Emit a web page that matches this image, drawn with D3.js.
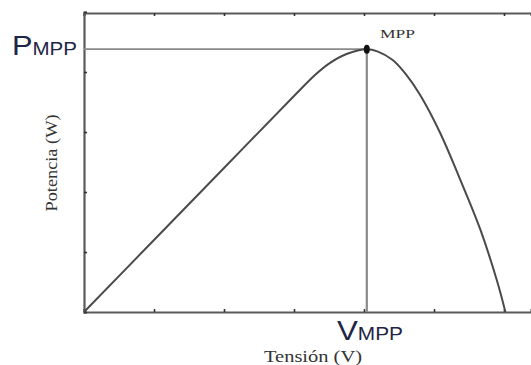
<!DOCTYPE html>
<html>
<head>
<meta charset="utf-8">
<script src="https://cdn.jsdelivr.net/npm/d3@7"></script>
<style>
  body { margin: 0; background: #fff; }
  svg { display: block; }
</style>
</head>
<body>
<div id="chart"></div>
<script>
// P-V curve of a PV panel (arbitrary units)
var voltage = [0, 1, 2, 3, 3.3, 3.5, 3.75, 4.04, 4.2, 4.41, 4.6, 4.8, 5.09, 5.37, 5.66, 5.9, 6.02];
var power   = [0, 1.2, 2.4, 3.6, 3.95, 4.14, 4.3, 4.38, 4.34, 4.2, 3.96, 3.62, 2.98, 2.22, 1.38, 0.52, 0];

var vMpp = 4.04;
var pMpp = 4.38;

var xTicks = [0, 1, 2, 3, 4, 5, 6];
var yTicks = [0, 1, 2, 3, 4, 5];

var width = 531, height = 365;
var margin = { left: 84, top: 12, bottom: 312 };

var svg = d3.select('#chart').append('svg')
    .attr('width', width)
    .attr('height', height);

var x = d3.scaleLinear()
    .domain([0, (width - margin.left) / 70])
    .range([margin.left, width]);

var y = d3.scaleLinear()
    .domain([0, 5])
    .range([margin.bottom, margin.top]);

var frameColor = '#5a5a5a';

// axes with small inward ticks
var bottomAxis = d3.axisBottom(x).tickValues(xTicks).tickSize(-3).tickFormat('');
var topAxis = d3.axisTop(x).tickValues(xTicks).tickSize(-3).tickFormat('');
var leftAxis = d3.axisLeft(y).tickValues(yTicks).tickSize(-3).tickFormat('');

function styleAxis(g) {
    g.select('.domain').attr('stroke', frameColor).attr('stroke-width', 2.2);
    g.selectAll('.tick line').attr('stroke', '#333').attr('stroke-width', 1.6);
}

svg.append('g')
    .attr('transform', 'translate(0,' + y(0) + ')')
    .call(bottomAxis).call(styleAxis);
svg.append('g')
    .attr('transform', 'translate(0,' + (y(5) + 1) + ')')
    .call(topAxis).call(styleAxis);
svg.append('g')
    .attr('transform', 'translate(' + x(0) + ',0)')
    .call(leftAxis).call(styleAxis);

// guide lines to the MPP
svg.append('line')
    .attr('x1', x(0)).attr('x2', x(vMpp))
    .attr('y1', y(pMpp)).attr('y2', y(pMpp))
    .attr('stroke', '#8a8a8a').attr('stroke-width', 1.8);
svg.append('line')
    .attr('x1', x(vMpp)).attr('x2', x(vMpp))
    .attr('y1', y(pMpp)).attr('y2', y(0))
    .attr('stroke', '#8a8a8a').attr('stroke-width', 2.2);

// the curve
var pts = voltage.map(function(v, i) { return [v, power[i]]; });
var line = d3.line()
    .x(function(d) { return x(d[0]); })
    .y(function(d) { return y(d[1]); })
    .curve(d3.curveCatmullRom.alpha(0.5));

svg.append('path')
    .datum(pts)
    .attr('d', line)
    .attr('fill', 'none')
    .attr('stroke', '#4a4a4a')
    .attr('stroke-width', 2);

// MPP marker
svg.append('ellipse')
    .attr('cx', x(vMpp)).attr('cy', y(pMpp))
    .attr('rx', 3).attr('ry', 4.5)
    .attr('fill', '#111');

svg.append('text')
    .attr('x', 380).attr('y', 38)
    .attr('font-family', 'Liberation Serif, serif')
    .attr('font-size', 13)
    .attr('textLength', 35)
    .attr('lengthAdjust', 'spacingAndGlyphs')
    .attr('fill', '#333')
    .text('MPP');

// PMPP / VMPP labels
var labelColor = '#1e2546';
var pLab = svg.append('text')
    .attr('x', 12).attr('y', y(pMpp) + 6)
    .attr('font-family', 'Liberation Sans, Arial, sans-serif')
    .attr('fill', labelColor)
    .attr('textLength', 65)
    .attr('lengthAdjust', 'spacingAndGlyphs');
pLab.append('tspan').attr('font-size', 27).text('P');
pLab.append('tspan').attr('font-size', 18).text('MPP');

var vLab = svg.append('text')
    .attr('x', 337).attr('y', 340)
    .attr('font-family', 'Liberation Sans, Arial, sans-serif')
    .attr('fill', labelColor)
    .attr('textLength', 66)
    .attr('lengthAdjust', 'spacingAndGlyphs');
vLab.append('tspan').attr('font-size', 27).text('V');
vLab.append('tspan').attr('font-size', 18).text('MPP');

// axis titles
svg.append('text')
    .attr('x', 264).attr('y', 362)
    .attr('font-family', 'Liberation Serif, serif')
    .attr('font-size', 16)
    .attr('textLength', 98)
    .attr('lengthAdjust', 'spacingAndGlyphs')
    .attr('fill', '#333')
    .text('Tensión (V)');

svg.append('text')
    .attr('transform', 'translate(57,163) rotate(-90)')
    .attr('text-anchor', 'middle')
    .attr('font-family', 'Liberation Serif, serif')
    .attr('font-size', 16)
    .attr('textLength', 97)
    .attr('lengthAdjust', 'spacingAndGlyphs')
    .attr('fill', '#333')
    .text('Potencia (W)');
</script>
</body>
</html>
